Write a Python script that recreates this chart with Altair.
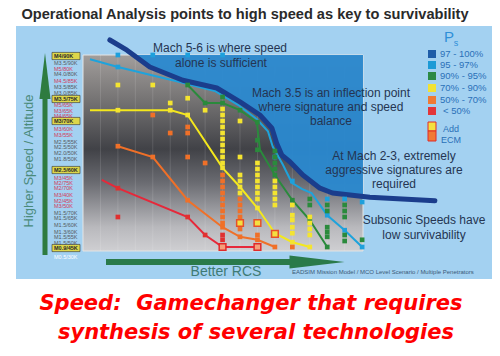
import altair as alt
import pandas as pd

FONT = "Liberation Sans"

# ---------------- data (x = RCS column index, y = speed/altitude row) ----------------
cyan_x = [-0.6, 1, 2.83, 4.55, 6.56, 7.88, 8.97, 9.6, 9.88, 10.46, 10.97, 11.54, 12.1, 13, 14, 15]
cyan_y = [31.3, 30, 28.7, 27.5, 26, 23.7, 21.3, 19.3, 16.7, 13.7, 10.7, 9.7, 9, 5.3, 2.8, 0]
green_x = [5, 6, 7, 8, 8.97, 9.14, 10, 11, 12, 13]
green_y = [27, 24, 24, 22.8, 20.8, 16.2, 12, 7.8, 4.5, 0]
yellow_x = [-0.6, 1, 4.04, 5, 7, 8, 9, 10, 11, 12]
yellow_y = [22.8, 22.8, 22.8, 22, 13.2, 10, 6.5, 2.3, 0.8, 0]
orange_x = [1, 3, 5, 7, 8, 9, 10]
orange_y = [16.8, 15, 7.8, 3.3, 1.7, 1.2, 0]
red_x = [0.08, 1, 5, 6, 7, 9]
red_y = [11.2, 9.8, 5, 2, 0, 0]
dark_x = [0.54, 1.52, 2.83, 4.72, 6.67, 8, 9.14, 9.83, 10.1, 10.4, 10.86, 11.6, 12.58, 13.3, 15.44, 19.17]
dark_y = [34.5, 32.8, 30, 27.8, 26.5, 24.2, 22, 19.8, 17.3, 15.3, 14.2, 12, 9.8, 9, 8.3, 7.7]
zone_x = [1.92] + dark_x[2:14] + [15.05]
zone_y = [32] + dark_y[2:14] + [8.4]

sq95_x = [1, 3, 5, 7, 1, 10, 11, 13, 14, 15, 13, 14, 15]
sq95_y = [32, 32, 32, 32, 30, 15, 11, 8, 8, 7.5, 5.3, 2.8, 0]
sq90_x = [5, 6, 7, 7, 8, 9, 9, 9, 10, 10, 10, 10, 10, 11, 12, 12, 12, 13, 13, 13, 13, 13, 13, 14, 14, 14, 14, 14, 15]
sq90_y = [27, 24, 25, 24, 22.8, 20.8, 17.8, 16.2, 16, 15, 14, 13, 12, 7.8, 8, 7, 4.5, 7, 6, 3.3, 2.5, 1.7, 0, 7, 6, 5, 2, 1, 1.2]
sq70_x = [1, 1, 3, 4, 4, 5, 5, 6, 7, 7, 7, 7, 7, 7, 7, 7, 7, 7, 7,
          8, 8, 8, 8, 8, 8, 9, 9, 9, 9, 9, 9, 9, 9, 10, 10, 10, 10, 10,
          11, 11, 11, 11, 11, 11, 12, 12, 12, 12, 12]
sq70_y = [27, 22.8, 27, 24, 22.8, 24.8, 22, 22.8, 23, 22, 21, 20, 19, 18, 17, 16, 15, 14, 13.2,
          21, 15, 12, 11, 10, 9, 14, 13, 12, 11, 10, 9, 8, 6.5, 11, 10, 9, 8, 7,
          7, 5.3, 4.5, 3.3, 2.3, 0.8, 5, 4, 3, 2, 0]
sq50_x = [1, 3, 3, 4, 5, 5, 5, 5, 6, 7, 7, 7, 7, 7, 7, 7, 7, 7, 7, 8, 8, 8, 8, 8, 8, 9, 9, 10, 11]
sq50_y = [16.8, 22, 15, 19, 20, 19, 15, 7.8, 14, 12, 11, 10, 9, 8, 7, 6, 5, 4, 3.3, 8, 7, 6, 5, 3, 1.7, 2, 1.2, 0, 0]
sqlt_x = [1, 1, 5, 6, 7, 7]
sqlt_y = [9.8, 5, 5, 2, 2, 1.2]
ecm_y_x = [8, 9, 10]
ecm_y_y = [4, 4, 2.2]
ecm_r_x = [7, 9]
ecm_r_y = [0, 0]

label_rows = [31.83, 30.67, 29.67, 28.83, 27.67, 26.67, 25.67, 24.67, 23.67, 22.67, 21.83, 21,
              19.67, 18.67, 17.5, 16.67, 15.67, 14.67, 12.83, 11.5, 10.67, 9.83, 8.67, 7.67,
              6.83, 5.67, 4.83, 3.67, 2.5, 1.67, 0.67, -0.17, -1.67]
label_texts = ["M4/90K", "M3.5/90K", "M5/80K", "M4.0/80K", "M4.5/85K", "M3.5/85K", "M3.0/85K",
               "M3.5/75K", "M5/65K", "M3/65K", "M4/65K", "M3/70K", "M3/60K", "M3/55K",
               "M2.5/55K", "M2.5/50K", "M2.0/50K", "M1.8/50K", "M2.5/60K", "M3/45K", "M2/75K",
               "M2/70K", "M3/40K", "M2/45K", "M3/50K", "M1.5/70K", "M1.5/65K", "M1.5/60K",
               "M1.3/60K", "M1.5/55K", "M1.5/50K", "M0.9/45K", "M0.5/30K"]
label_kinds = ["hl", "gray", "red", "gray", "red", "gray", "gray", "hl", "red", "red", "red", "hl",
               "red", "red", "gray", "gray", "gray", "gray", "hl", "red", "red", "red", "red", "red",
               "red", "gray", "gray", "gray", "gray", "gray", "gray", "hl", "white"]

legend_labels = ["97 - 100%", "95 - 97%", "90% - 95%", "70% - 90%", "50% - 70%", "< 50%"]
legend_colors = ["#1f5da8", "#1c9ad6", "#2b8a45", "#f2e235", "#f07a35", "#e2363a"]

title_text = "Operational Analysis points to high speed as key to survivability"
ann1 = ["Mach 5-6 is where speed", "alone is sufficient"]
ann2 = ["Mach 3.5 is an inflection point", "where signature and speed", "balance"]
ann3 = ["At Mach 2-3, extremely", "aggressive signatures are", "required"]
ann4 = ["Subsonic Speeds have", "low survivability"]
footer = ["Speed:\u00a0 Gamechanger that requires", "synthesis of several technologies"]

# ---------------- scales ----------------
XS = alt.Scale(domain=[-1, 15.05], range=[83, 363], nice=False, zero=False)
YS = alt.Scale(domain=[-0.5, 32], range=[250, 55], nice=False, zero=False)
one = pd.DataFrame({"k": [0]})


def X(f="x"):
    return alt.X(f"{f}:Q", scale=XS, axis=None)


def Y(f="y"):
    return alt.Y(f"{f}:Q", scale=YS, axis=None)


def box(x1, x2, y1, y2, **kw):
    return alt.Chart(one).mark_rect(**kw).encode(
        x=alt.value(x1), x2=alt.value(x2), y=alt.value(y1), y2=alt.value(y2))


def txt(s, x, y, size=12, color="#253552", **kw):
    kw.setdefault("font", FONT)
    return alt.Chart(one).mark_text(text=s, fontSize=size, color=color, **kw).encode(
        x=alt.value(x), y=alt.value(y))


layers = []
# panel
layers.append(box(16, 492, 26, 279, color="#a3d1f1"))
# plot gradient
grad = alt.LinearGradient(gradient="linear", x1=0, x2=0, y1=0, y2=1, stops=[
    alt.GradientStop(color="#a29e9c", offset=0),
    alt.GradientStop(color="#777575", offset=0.22),
    alt.GradientStop(color="#414247", offset=0.48),
    alt.GradientStop(color="#6a6b71", offset=0.65),
    alt.GradientStop(color="#b9b9bd", offset=0.88),
    alt.GradientStop(color="#cfcfd2", offset=1)])
layers.append(box(83, 363, 55, 251, color=grad, stroke="#e4e4e4", strokeWidth=1))
# faint grid
grid = pd.DataFrame({"x": list(range(0, 15))})
layers.append(alt.Chart(grid).mark_rule(color="#ffffff", opacity=0.12, strokeWidth=1).encode(
    x=X(), y=alt.value(55), y2=alt.value(251)))
# blue zone
zone = pd.DataFrame({"x": zone_x, "y": zone_y, "top": [32] * len(zone_x)})
layers.append(alt.Chart(zone).mark_area(color="#2a89d0", opacity=0.95).encode(
    x=X(), y=Y(), y2="top:Q"))

# lines
for xs, ys, col in [(red_x, red_y, "#e6283a"), (orange_x, orange_y, "#f07028"),
                    (yellow_x, yellow_y, "#f4e81c"), (green_x, green_y, "#2a8a3c"),
                    (cyan_x, cyan_y, "#1ea3dc")]:
    d = pd.DataFrame({"x": xs, "y": ys})
    layers.append(alt.Chart(d).mark_line(color=col, strokeWidth=2).encode(x=X(), y=Y()))
d = pd.DataFrame({"x": dark_x, "y": dark_y})
layers.append(alt.Chart(d).mark_line(color="#1b3d8c", strokeWidth=5, strokeCap="round",
                                     strokeJoin="round").encode(x=X(), y=Y()))

# squares
for xs, ys, col in [(sq95_x, sq95_y, "#1ea0dc"), (sq90_x, sq90_y, "#2a8a3c"),
                    (sq70_x, sq70_y, "#f4e430"), (sq50_x, sq50_y, "#f07028"),
                    (sqlt_x, sqlt_y, "#e03030")]:
    d = pd.DataFrame({"x": xs, "y": ys})
    layers.append(alt.Chart(d).mark_square(color=col, size=22, opacity=1).encode(x=X(), y=Y()))
d = pd.DataFrame({"x": ecm_y_x, "y": ecm_y_y})
layers.append(alt.Chart(d).mark_square(fill="#f4e040", stroke="#e5502a", strokeWidth=1.5,
                                       size=45, opacity=1).encode(x=X(), y=Y()))
d = pd.DataFrame({"x": ecm_r_x, "y": ecm_r_y})
layers.append(alt.Chart(d).mark_square(fill="#f5a07a", stroke="#e02a2a", strokeWidth=1.5,
                                       size=45, opacity=1).encode(x=X(), y=Y()))

# y labels
lab = pd.DataFrame({"y": label_rows, "lab": label_texts, "kind": label_kinds})
hl = lab[lab.kind == "hl"]
layers.append(alt.Chart(hl).transform_calculate(lo="datum.y - 0.6", hi="datum.y + 0.6").mark_rect(
    color="#ddd64a", stroke="#333333", strokeWidth=0.6).encode(
    x=alt.value(52), x2=alt.value(80), y=Y("lo"), y2="hi:Q"))
for kind, col, bold in [("hl", "#2a2a2a", "bold"), ("gray", "#555a60", "normal"),
                        ("red", "#d43a5a", "normal"), ("white", "#ffffff", "normal")]:
    layers.append(alt.Chart(lab[lab.kind == kind]).mark_text(
        align="left", baseline="middle", fontSize=5.5, font=FONT, color=col, fontWeight=bold).encode(
        x=alt.value(54), y=Y(), text="lab:N"))

# arrows
layers.append(alt.Chart(one).mark_rule(color="#2e7b40", strokeWidth=5).encode(
    x=alt.value(45), y=alt.value(255), y2=alt.value(96)))
layers.append(alt.Chart(one).mark_point(shape="M0,-1L0.24,1L-0.24,1Z", size=2116, filled=True,
                                        color="#2e7b40", opacity=1).encode(
    x=alt.value(45), y=alt.value(76)))
layers.append(alt.Chart(one).mark_rule(color="#2a7a4a", strokeWidth=6).encode(
    y=alt.value(262), x=alt.value(106), x2=alt.value(295)))
layers.append(alt.Chart(one).mark_point(shape="M1,0L-1,-0.24L-1,0.24Z", size=3025, filled=True,
                                        color="#2a7a4a", opacity=1).encode(
    x=alt.value(317), y=alt.value(262)))

# annotations
layers.append(txt(ann1[0], 220, 48))
layers.append(txt(ann1[1], 221, 63))
for i, s in enumerate(ann2):
    layers.append(txt(s, 331, 93 + 14 * i))
for i, s in enumerate(ann3):
    layers.append(txt(s, 394, 156 + 14 * i))
for i, s in enumerate(ann4):
    layers.append(txt(s, 424, 220 + 15 * i))
layers.append(txt("Better RCS", 226, 272, size=14, color="#3e7a74"))
layers.append(txt("EADSIM Mission Model / MCO Level Scenario / Multiple Penetrators", 292, 272,
                  size=6, color="#3a5a78", align="left"))
layers.append(txt("Higher Speed / Altitude", 29, 161, size=13, color="#4a8a7a", angle=270))

# legend
leg_y = [54, 65, 76, 88, 100, 111]
for i in range(len(legend_labels)):
    layers.append(alt.Chart(one).mark_square(color=legend_colors[i], size=64, opacity=1).encode(
        x=alt.value(432), y=alt.value(leg_y[i])))
    layers.append(txt(legend_labels[i], 440 if i < 5 else 443, leg_y[i], size=9.5,
                      color="#2a70b8", align="left"))
layers.append(txt("P", 449, 37, size=15, color="#2e8fd8"))
layers.append(txt("s", 456, 43, size=9, color="#2e8fd8"))
layers.append(box(428, 436, 122, 131, color="#f4e040", stroke="#e02a2a", strokeWidth=1))
layers.append(box(428, 436, 131, 141, color="#f07a35", stroke="#e02a2a", strokeWidth=1))
layers.append(txt("Add", 451, 129, size=9, color="#2a70b8"))
layers.append(txt("ECM", 451, 140, size=9, color="#2a70b8"))

# titles
layers.append(txt(title_text, 245, 15, size=14.6, color="#2a2a2a", fontWeight="bold"))
layers.append(txt(footer[0], 251, 304, size=21, color="#ff0000", fontWeight="bold",
                  fontStyle="italic", font="DejaVu Sans"))
layers.append(txt(footer[1], 256, 333, size=21, color="#ff0000", fontWeight="bold",
                  fontStyle="italic", font="DejaVu Sans"))

chart = alt.layer(*layers).properties(
    width=500, height=356, autosize=alt.AutoSizeParams(type="none"), padding=0,
    background="white").configure_view(strokeWidth=0)

chart.save("out.html", embed_options={"renderer": "svg", "actions": False})
